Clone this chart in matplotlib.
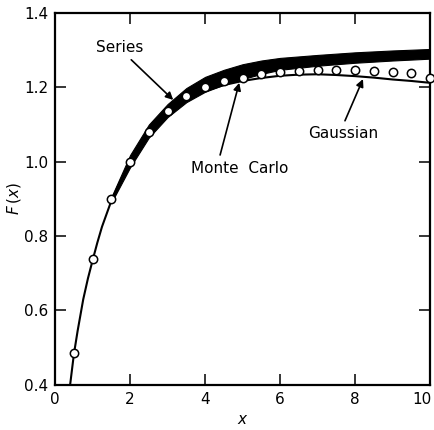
import numpy as np
import matplotlib
matplotlib.use('Agg')
import matplotlib.pyplot as plt
import matplotlib.transforms as mtransforms

# Monte Carlo points (open circles)
mc_x = [0.5, 1.0, 1.5, 2.0, 2.5, 3.0, 3.5, 4.0, 4.5, 5.0, 5.5, 6.0, 6.5, 7.0,
        7.5, 8.0, 8.5, 9.0, 9.5, 10.0]
mc_y = [0.486, 0.738, 0.899, 1.000, 1.081, 1.135, 1.177, 1.202, 1.218, 1.226,
        1.236, 1.242, 1.245, 1.247, 1.247, 1.247, 1.245, 1.242, 1.239, 1.226]

# Gaussian curve (thin line)
gauss_x = [0.4, 0.5, 0.6, 0.75, 0.875, 1.0, 1.125, 1.25, 1.5, 1.75, 2.0, 2.5,
           3.0, 3.5, 4.0, 4.5, 5.0, 5.5, 6.0, 6.5, 7.0, 7.5, 8.0, 8.5, 9.0,
           9.5, 10.0]
gauss_y = [0.40, 0.482, 0.545, 0.63, 0.686, 0.735, 0.782, 0.825, 0.895, 0.950,
           0.995, 1.072, 1.127, 1.165, 1.190, 1.206, 1.217, 1.225, 1.231, 1.234,
           1.235, 1.233, 1.230, 1.226, 1.221, 1.217, 1.212]

# Series band (upper and lower edge of the thick black curve)
series_x = [1.5, 2.0, 2.5, 3.0, 3.5, 4.0, 4.5, 5.0, 5.5, 6.0, 7.0, 8.0, 9.0, 10.0]
series_hi = [0.905, 1.018, 1.100, 1.155, 1.198, 1.228, 1.247, 1.262, 1.272,
             1.279, 1.287, 1.294, 1.299, 1.303]
series_lo = [0.890, 0.985, 1.065, 1.120, 1.160, 1.188, 1.207, 1.222, 1.236,
             1.247, 1.258, 1.266, 1.272, 1.277]

plt.rcParams['font.family'] = 'DejaVu Sans'
plt.rcParams['font.size'] = 11

fig = plt.figure(figsize=(4.34, 4.30), dpi=100)
ax = fig.add_axes([0.127, 0.105, 0.864, 0.865])

ax.fill_between(series_x, series_lo, series_hi, color='k', lw=0.8, zorder=2)
ax.plot(gauss_x, gauss_y, color='k', lw=1.5, zorder=3)
ax.plot(mc_x, mc_y, 'o', ms=6, mfc='white', mec='k', mew=1.1, zorder=4,
        clip_on=False)

arrow = dict(arrowstyle='-|>', color='k', lw=1.2, mutation_scale=11,
             shrinkA=0, shrinkB=0)
ax.annotate('', xy=(3.15, 1.166), xytext=(2.03, 1.274), arrowprops=arrow)
ax.text(1.73, 1.306, 'Series', ha='center', va='center')
ax.annotate('', xy=(4.91, 1.212), xytext=(4.4, 1.018), arrowprops=arrow)
ax.text(4.93, 0.983, 'Monte  Carlo', ha='center', va='center')
ax.annotate('', xy=(8.21, 1.222), xytext=(7.73, 1.11), arrowprops=arrow)
ax.text(7.68, 1.077, 'Gaussian', ha='center', va='center')

ax.set_xlim(0, 10)
ax.set_ylim(0.4, 1.4)
ax.set_xticks([0, 2, 4, 6, 8, 10])
ax.set_yticks([0.4, 0.6, 0.8, 1.0, 1.2, 1.4])
ax.set_yticklabels(['0.4', '0.6', '0.8', '1.0', '1.2', '1.4'])
ax.tick_params(direction='in', length=8, width=1.1, top=True, right=True,
               labelsize=11, pad=5)
for s in ax.spines.values():
    s.set_linewidth(1.6)

# last x label sits against the figure edge, nudge it left like the original
last = ax.get_xticklabels()[-1]
last.set_transform(last.get_transform() +
                   mtransforms.ScaledTranslation(-6 / 72, 0, fig.dpi_scale_trans))

ax.set_xlabel(r'$x$', fontsize=11, labelpad=4)
ax.set_ylabel(r'$F\,(x)$', fontsize=11, labelpad=1)

fig.savefig('out.png', dpi=100)
